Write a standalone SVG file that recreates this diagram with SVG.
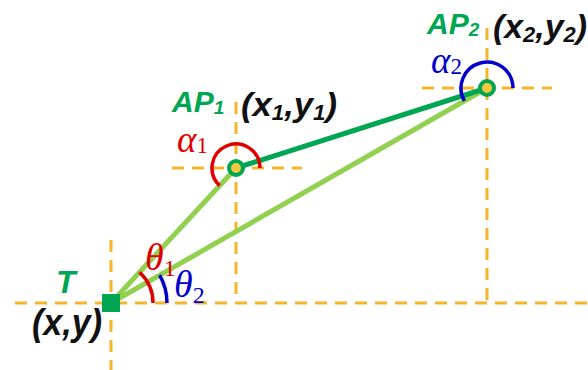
<svg xmlns="http://www.w3.org/2000/svg" width="588" height="370" viewBox="0 0 588 370">
<style>
.dash{stroke:#f5b52a;stroke-width:3;stroke-dasharray:12,8;fill:none}
.lg{stroke:#92d050;stroke-width:5;stroke-linecap:round;fill:none}
.dg{stroke:#00a651;stroke-width:5;stroke-linecap:round;fill:none}
.red{stroke:#e00000;stroke-width:3.5;fill:none}
.blue{stroke:#0000cc;stroke-width:3.5;fill:none}
.lab{font-family:"Liberation Sans",Arial,sans-serif;font-weight:bold;font-style:italic}
.g{fill:#00a651}
.k{fill:#111}
.gr{font-family:"Liberation Serif","DejaVu Serif",serif;font-style:italic}
</style>
<rect width="588" height="370" fill="#fff"/>
<g id="guides">
<line class="dash" x1="15" y1="303" x2="588" y2="303"/>
<line class="dash" x1="111" y1="240" x2="111" y2="370"/>
<line class="dash" x1="236" y1="102" x2="236" y2="303"/>
<line class="dash" x1="172" y1="168" x2="302" y2="168"/>
<line class="dash" x1="487" y1="28" x2="487" y2="303"/>
<line class="dash" x1="422" y1="88" x2="552" y2="88"/>
</g>
<g id="connectors">
<line class="lg" x1="111" y1="303" x2="236" y2="168"/>
<line class="lg" x1="111" y1="303" x2="487" y2="88"/>
<line class="dg" x1="236" y1="168" x2="487" y2="88"/>
</g>
<g id="angles">
<path class="red" d="M260,168 A24,24 0 1 0 219.7,185.6"/>
<path class="blue" d="M513,88 A26,26 0 1 0 464.4,101"/>
<path class="red" d="M153,303 A42,42 0 0 0 139.5,272.2"/>
<path class="blue" d="M167,303 A56,56 0 0 0 159.6,275.2"/>
</g>
<g id="T">
<rect x="102" y="294" width="18" height="18" fill="#00a651"/>
<text class="lab g" x="56" y="293" font-size="32">T</text>
<text class="lab k" x="32" y="335" font-size="36" textLength="70" lengthAdjust="spacingAndGlyphs">(x,y)</text>
</g>
<g id="AP1">
<circle cx="236" cy="168" r="7" fill="#f5c842" stroke="#00a651" stroke-width="4"/>
<text class="lab g" x="172" y="112" font-size="30">AP<tspan font-size="19" dy="2">1</tspan></text>
<text class="lab k" x="241" y="116" font-size="34" textLength="96" lengthAdjust="spacingAndGlyphs">(x<tspan font-size="22" dy="4">1</tspan><tspan dy="-4">,y</tspan><tspan font-size="22" dy="4">1</tspan><tspan dy="-4">)</tspan></text>
<text class="gr" x="177" y="152" font-size="37" fill="#e00000">α<tspan font-size="23" dy="1" font-style="normal">1</tspan></text>
</g>
<g id="AP2">
<circle cx="487" cy="88" r="7" fill="#f5c842" stroke="#00a651" stroke-width="4"/>
<text class="lab g" x="427" y="34" font-size="30">AP<tspan font-size="19" dy="2">2</tspan></text>
<text class="lab k" x="493" y="38" font-size="34" textLength="94" lengthAdjust="spacingAndGlyphs">(x<tspan font-size="22" dy="4">2</tspan><tspan dy="-4">,y</tspan><tspan font-size="22" dy="4">2</tspan><tspan dy="-4">)</tspan></text>
<text class="gr" x="431" y="73" font-size="37" fill="#0000cc">α<tspan font-size="23" dy="1" font-style="normal">2</tspan></text>
</g>
<g id="theta">
<text class="gr" x="145" y="270" font-size="38" fill="#e00000">θ<tspan font-size="24" dy="6" font-style="normal">1</tspan></text>
<text class="gr" x="174" y="297" font-size="38" fill="#0000cc">θ<tspan font-size="24" dy="6" font-style="normal">2</tspan></text>
</g>
</svg>
